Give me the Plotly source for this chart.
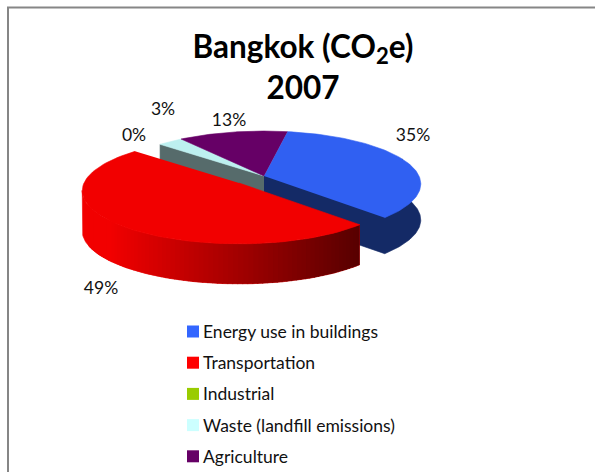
import numpy as np
import plotly.graph_objects as go

categories = ["Energy use in buildings", "Transportation", "Industrial", "Waste (landfill emissions)", "Agriculture"]
values = [35, 49, 0, 3, 13]
legend_colors = ["#3366FF", "#FF0000", "#99CC00", "#CCFFFF", "#660066"]
top_colors = ["#3060F2", "#F20000", "#99CC00", "#BDF0F0", "#660066"]
title_text = "Bangkok (CO<sub>2</sub>e)<br>2007"

# layout constants (pixels)
W, H = 595, 472
FIRST_ANGLE = 10
A, B, K = 155, 51.7, 0.15
CENTERS = [(264, 176), (239, 183), (264, 176), (264, 176), (264, 176)]
DEPTHS = [36, 40, 36, 36, 36]
LABEL_POS = [(413, 137), (101, 290), (134, 137), (163, 111), (229, 122)]
LEGEND_X, LEGEND_Y, LEGEND_STEP = 193, 331.5, 31.2
TEXT_SIZE = 17.5


def project(theta_deg, center):
    t = np.radians(theta_deg)
    X, Y = np.sin(t), -np.cos(t)
    s = 1 / (1 - K * Y)
    return center[0] + A * X * s, center[1] + B * Y * s


fig = go.Figure()


def poly(xs, ys, color, lw=0.6):
    fig.add_trace(go.Scatter(x=list(xs), y=list(ys), mode="lines", fill="toself", fillcolor=color,
                             line=dict(color=color, width=lw), hoverinfo="skip", showlegend=False))


bounds = FIRST_ANGLE + np.concatenate([[0], np.cumsum(values)]) * 3.6


def top_face(i):
    th = np.linspace(bounds[i], bounds[i + 1], 90)
    x, y = project(th, CENTERS[i])
    poly(np.r_[CENTERS[i][0], x], np.r_[CENTERS[i][1], y], top_colors[i])


def cut_wall(i, angle, color):
    c, d = CENTERS[i], DEPTHS[i]
    x, y = project(angle, c)
    poly([c[0], x, x, c[0]], [c[1], y, y + d, c[1] + d], color)


# energy slice: cut face and outer rim as one body under its top face
c0, d0 = CENTERS[0], DEPTHS[0]
th = np.linspace(70, bounds[1], 60)
x, y = project(th, c0)
poly(np.r_[c0[0], x[0], x, c0[0]], np.r_[c0[1], y[0], y + d0, c0[1] + d0], "#142A66")
# waste cut face
cut_wall(3, bounds[3], "#566B6B")
# back faces
top_face(0)
top_face(3)
top_face(4)

# transportation rim: one bright body, then shaded strips toward the right
c1, d1 = CENTERS[1], DEPTHS[1]
th = np.linspace(bounds[1], 262, 120)
x, y = project(th, c1)
poly(np.r_[x, x[::-1]], np.r_[y, (y + d1)[::-1]], "rgb(242,0,0)")
edges = np.linspace(bounds[1], 245, 70)
for a0, a1 in zip(edges[:-1], edges[1:]):
    th = np.linspace(a0, a1 + 0.4, 3)
    x, y = project(th, c1)
    t = np.clip((x.mean() - 110) / 253, 0, 1)
    col = f"rgb({int(242 - 157 * t)},0,0)"
    poly(np.r_[x, x[::-1]], np.r_[y, (y + d1)[::-1]], col, 0.3)
top_face(1)

# data labels
fig.add_trace(go.Scatter(x=[p[0] for p in LABEL_POS], y=[p[1] for p in LABEL_POS], mode="text",
                         text=[f"{v}%" for v in values], textposition="middle center",
                         textfont=dict(family="Lato", size=TEXT_SIZE, color="#111"),
                         hoverinfo="skip", showlegend=False))

# legend
ly = [LEGEND_Y + i * LEGEND_STEP for i in range(len(categories))]
fig.add_trace(go.Scatter(x=[LEGEND_X] * len(categories), y=ly, mode="markers",
                         marker=dict(symbol="square", size=12, color=legend_colors, line=dict(width=0)),
                         hoverinfo="skip", showlegend=False))
for name, yy in zip(categories, ly):
    fig.add_annotation(x=LEGEND_X + 10, y=yy, text=name, showarrow=False, xanchor="left", yanchor="middle",
                       xref="x", yref="y", xshift=-2, font=dict(family="Lato", size=TEXT_SIZE, color="#111"))

fig.update_layout(
    width=W, height=H, margin=dict(l=0, r=0, t=0, b=0), paper_bgcolor="white", plot_bgcolor="white",
    title=dict(text=title_text, x=303 / W, xanchor="center", y=0.878, yanchor="top",
               font=dict(family="Lato", size=31.5, color="black", weight="bold")),
    xaxis=dict(range=[0, W], visible=False, fixedrange=True),
    yaxis=dict(range=[H, 0], visible=False, fixedrange=True),
    showlegend=False,
    shapes=[dict(type="path", path=f"M 8 {H} L 8 7.5 L {W} 7.5", xref="x", yref="y",
                 line=dict(color="#868686", width=2))],
)
fig.write_html("out.html", config=dict(displayModeBar=False),
               post_script="document.body.style.margin='0';document.body.style.overflow='hidden';")
